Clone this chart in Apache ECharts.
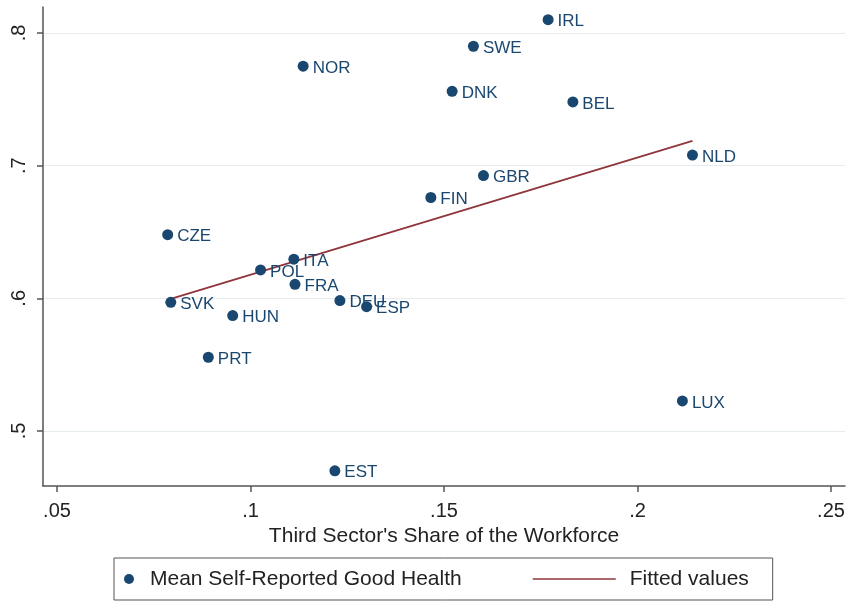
<!DOCTYPE html>
<html>
<head>
<meta charset="utf-8">
<script src="https://cdn.jsdelivr.net/npm/echarts@6/dist/echarts.min.js"></script>
<style>
  html, body { margin: 0; padding: 0; background: #fff; }
  #chart { width: 849px; height: 601px; }
</style>
</head>
<body>
<div id="chart"></div>
<script>
// countries with their third sector share (x) and mean good health (y)
const countries = ['IRL', 'SWE', 'NOR', 'DNK', 'BEL', 'NLD', 'GBR', 'FIN', 'CZE', 'SVK',
  'HUN', 'PRT', 'POL', 'ITA', 'FRA', 'DEU', 'ESP', 'EST', 'LUX'];
const share = [0.1769, 0.1576, 0.1136, 0.1521, 0.1833, 0.2142, 0.1602, 0.1466, 0.0786, 0.0794,
  0.0954, 0.0891, 0.1026, 0.1112, 0.1115, 0.1231, 0.1300, 0.1218, 0.2116];
const health = [0.810, 0.790, 0.775, 0.756, 0.748, 0.708, 0.6925, 0.676, 0.648, 0.597,
  0.587, 0.5556, 0.6214, 0.6295, 0.6106, 0.5983, 0.5937, 0.470, 0.5227];

// fitted line end points
const fitX = [0.0794, 0.2142];
const fitY = [0.5996, 0.7186];

const xTicks = [0.05, 0.1, 0.15, 0.2, 0.25];
const yTicks = [0.5, 0.6, 0.7, 0.8];

const font = '"Liberation Sans", Arial, Helvetica, sans-serif';
const navy = '#1a476f';
const maroon = '#90353b';
const dropZero = (v) => String(v).replace(/^0/, '');

const myChart = echarts.init(document.getElementById('chart'));
const option = {
  backgroundColor: '#fff',
  animation: false,
  textStyle: { fontFamily: font },
  grid: { left: 43, right: 4, top: 7, bottom: 115 },
  xAxis: {
    type: 'value',
    min: 0.04638,
    max: 0.25362,
    name: "Third Sector's Share of the Workforce",
    nameLocation: 'middle',
    nameGap: 37,
    nameTextStyle: { fontSize: 21, color: '#222', fontFamily: font },
    axisLine: { onZero: false, lineStyle: { color: '#555', width: 1.5 } },
    axisTick: { customValues: xTicks, length: 6, lineStyle: { color: '#555', width: 1.5 } },
    axisLabel: { customValues: xTicks, formatter: dropZero, fontSize: 20, color: '#222', margin: 15, fontFamily: font },
    splitLine: { show: false }
  },
  yAxis: {
    type: 'value',
    min: 0.45855,
    max: 0.81959,
    axisLine: { show: true, onZero: false, lineStyle: { color: '#555', width: 1.5 } },
    axisTick: { show: true, customValues: yTicks, length: 6, lineStyle: { color: '#555', width: 1.5 } },
    axisLabel: { customValues: yTicks, formatter: dropZero, rotate: 90, fontSize: 20, color: '#222', margin: 14, fontFamily: font },
    splitLine: { show: true, lineStyle: { color: '#e4ecef', width: 1.2 } }
  },
  legend: [{
    left: 114,
    top: 558,
    padding: [10, 311, 10, 10],
    borderColor: '#555',
    borderWidth: 1,
    itemWidth: 10,
    itemHeight: 10,
    data: ['Mean Self-Reported Good Health'],
    textStyle: { fontSize: 21, color: '#222', lineHeight: 22, padding: [0, 0, 0, 11], fontFamily: font }
  }, {
    left: 532,
    top: 558,
    padding: [10, 0, 10, 0],
    itemWidth: 83,
    itemHeight: 10,
    itemStyle: { opacity: 0 },
    lineStyle: { color: maroon, width: 1.5, opacity: 1 },
    data: ['Fitted values'],
    textStyle: { fontSize: 21, color: '#222', lineHeight: 22, padding: [0, 0, 0, 9], fontFamily: font }
  }],
  series: [{
    name: 'Mean Self-Reported Good Health',
    type: 'scatter',
    symbol: 'circle',
    symbolSize: 11,
    itemStyle: { color: navy, opacity: 1 },
    data: countries.map((c, i) => ({ name: c, value: [share[i], health[i]] })),
    label: {
      show: true,
      position: 'right',
      distance: 4,
      offset: [0, 2],
      formatter: '{b}',
      color: navy,
      fontSize: 17,
      fontFamily: font
    },
    z: 3
  }, {
    name: 'Fitted values',
    type: 'line',
    showSymbol: false,
    symbol: 'none',
    lineStyle: { color: maroon, width: 1.8 },
    itemStyle: { color: maroon },
    data: fitX.map((x, i) => [x, fitY[i]]),
    z: 2
  }]
};

myChart.setOption(option);
</script>
</body>
</html>
